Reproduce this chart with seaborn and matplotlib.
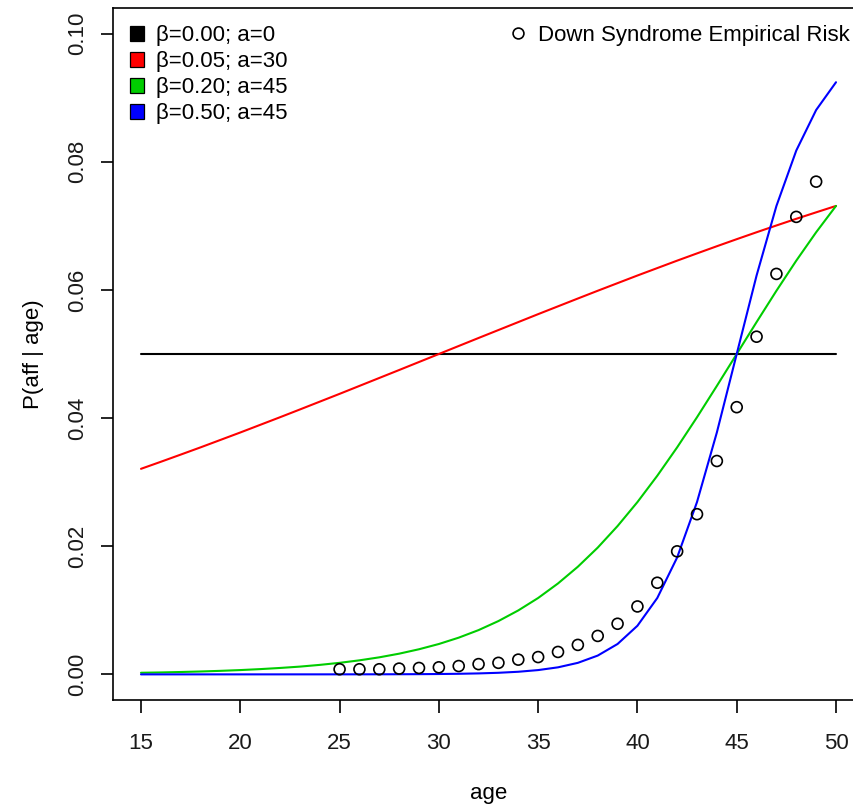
import matplotlib
matplotlib.use("Agg")
import matplotlib.pyplot as plt
from matplotlib.patches import Patch
from matplotlib.lines import Line2D
import pandas as pd
import seaborn as sns

# ---------------- data ----------------
ages = list(range(15, 51))

p_b000 = [0.05] * 36

p_b005 = [0.03208, 0.03318, 0.03430, 0.03543, 0.03659, 0.03775, 0.03894, 0.04013,
          0.04134, 0.04256, 0.04378, 0.04502, 0.04626, 0.04750, 0.04875, 0.05000,
          0.05125, 0.05250, 0.05374, 0.05498, 0.05622, 0.05744, 0.05866, 0.05987,
          0.06106, 0.06225, 0.06341, 0.06457, 0.06570, 0.06682, 0.06792, 0.06900,
          0.07006, 0.07110, 0.07211, 0.07311]

p_b020 = [0.00025, 0.00030, 0.00037, 0.00045, 0.00055, 0.00067, 0.00082, 0.00100,
          0.00121, 0.00148, 0.00180, 0.00219, 0.00266, 0.00323, 0.00392, 0.00474,
          0.00573, 0.00691, 0.00832, 0.00998, 0.01192, 0.01419, 0.01680, 0.01978,
          0.02315, 0.02689, 0.03100, 0.03543, 0.04013, 0.04502, 0.05000, 0.05498,
          0.05987, 0.06457, 0.06900, 0.07311]

p_b050 = [0.0000000, 0.0000001, 0.0000001, 0.0000001, 0.0000002, 0.0000004, 0.0000006,
          0.0000010, 0.0000017, 0.0000028, 0.0000045, 0.0000075, 0.0000123, 0.0000203,
          0.0000335, 0.0000553, 0.0000911, 0.0001501, 0.0002473, 0.0004070, 0.0006693,
          0.0010987, 0.0017986, 0.0029312, 0.0047426, 0.0075858, 0.0119203, 0.0182426,
          0.0268941, 0.0377541, 0.0500000, 0.0622459, 0.0731059, 0.0817574, 0.0880797,
          0.0924142]

series_labels = ["\u03b2=0.00; a=0", "\u03b2=0.05; a=30",
                 "\u03b2=0.20; a=45", "\u03b2=0.50; a=45"]
series_colors = ["#000000", "#FF0000", "#00CD00", "#0000FF"]

emp_ages = list(range(25, 50))
emp_risk = [0.0008, 0.0008, 0.0008, 0.0009, 0.0010, 0.0011, 0.0013, 0.0016, 0.0018,
            0.0023, 0.0027, 0.0035, 0.0046, 0.0060, 0.0079, 0.0106, 0.0143, 0.0192,
            0.0250, 0.0333, 0.0417, 0.0527, 0.0625, 0.0714, 0.0769]
emp_label = "Down Syndrome Empirical Risk"

x_ticks = [15, 20, 25, 30, 35, 40, 45, 50]
y_ticks = [0.00, 0.02, 0.04, 0.06, 0.08, 0.10]
y_ticklabels = ["0.00", "0.02", "0.04", "0.06", "0.08", "0.10"]

# ---------------- build frame ----------------
frames = []
for lab, vals in zip(series_labels, [p_b000, p_b005, p_b020, p_b050]):
    frames.append(pd.DataFrame({"age": ages, "p": vals, "series": lab}))
df = pd.concat(frames, ignore_index=True)
emp = pd.DataFrame({"age": emp_ages, "risk": emp_risk})

# ---------------- style ----------------
sns.set_theme(style="white")
plt.rcParams["font.family"] = ["Liberation Sans", "DejaVu Sans"]
plt.rcParams["text.color"] = "black"
plt.rcParams["axes.labelcolor"] = "black"
plt.rcParams["xtick.color"] = "black"
plt.rcParams["ytick.color"] = "black"
plt.rcParams["xtick.labelcolor"] = "#1a1a1a"
plt.rcParams["ytick.labelcolor"] = "#1a1a1a"
FS = 16

W, H = 854, 806
fig = plt.figure(figsize=(W / 100, H / 100), dpi=100)
ax_l, ax_r, ax_t, ax_b = 113.2, 863.8, 8.0, 700.0
ax = fig.add_axes([ax_l / W, 1 - ax_b / H, (ax_r - ax_l) / W, (ax_b - ax_t) / H])

sns.lineplot(data=df, x="age", y="p", hue="series", hue_order=series_labels,
             palette=dict(zip(series_labels, series_colors)), linewidth=1.5,
             legend=False, ax=ax, estimator=None, sort=True)
sns.scatterplot(data=emp, x="age", y="risk", marker="o", s=62,
                facecolor="none", edgecolor="black", linewidth=1.2, ax=ax,
                legend=False, zorder=3)

ax.set_xlim(13.6, 51.4)
ax.set_ylim(-0.004, 0.104)
ax.set_xticks(x_ticks)
ax.set_xticklabels([str(t) for t in x_ticks], fontsize=FS)
ax.set_yticks(y_ticks)
ax.set_yticklabels(y_ticklabels, fontsize=FS, rotation=90, va="center")
ax.tick_params(axis="both", which="major", direction="out", length=9,
               width=1.2, color="black", left=True, bottom=True)
ax.tick_params(axis="x", pad=15)
ax.tick_params(axis="y", pad=9)
for sp in ax.spines.values():
    sp.set_visible(True)
    sp.set_color("black")
    sp.set_linewidth(1.2)

ax.set_xlabel("age", fontsize=FS, labelpad=20.5)
ax.set_ylabel("P(aff | age)", fontsize=FS, labelpad=17)

# ---------------- legends ----------------
patch_handles = [Patch(facecolor=c, edgecolor="black", linewidth=0.9)
                 for c in series_colors]
leg1 = fig.legend(patch_handles, series_labels, loc="upper left",
                  bbox_to_anchor=(130 / W, 1 - 25.5 / H), frameon=False,
                  fontsize=FS, handlelength=0.65, handleheight=0.65,
                  handletextpad=0.54, labelspacing=0.225, borderpad=0,
                  borderaxespad=0)

circ = Line2D([], [], marker="o", ls="none", mfc="none", mec="black",
              ms=7.8, mew=1.2)
leg2 = fig.legend([circ], [emp_label], loc="upper left",
                  bbox_to_anchor=(509 / W, 1 - 25.0 / H), frameon=False,
                  fontsize=FS, handlelength=0.8, handletextpad=0.5,
                  borderpad=0, borderaxespad=0)

fig.savefig("out.png", dpi=100)
